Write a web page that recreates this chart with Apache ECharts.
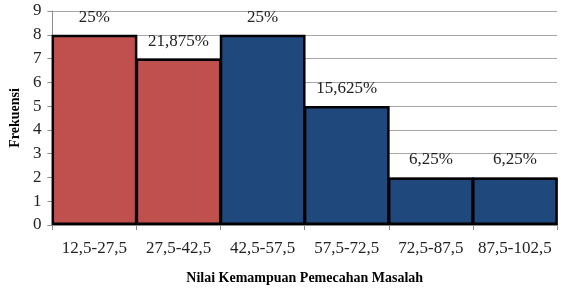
<!DOCTYPE html>
<html><head><meta charset="utf-8">
<script src="https://cdn.jsdelivr.net/npm/echarts@6/dist/echarts.min.js"></script>
<style>html,body{margin:0;padding:0;background:#fff}#c{width:561px;height:290px}</style>
</head><body><div id="c"></div>
<script>
var categories = ['12,5-27,5','27,5-42,5','42,5-57,5','57,5-72,5','72,5-87,5','87,5-102,5'];
var frequencies = [8, 7, 8, 5, 2, 2];
var percentLabels = ['25%','21,875%','25%','15,625%','6,25%','6,25%'];
var barColors = ['#C0504D','#C0504D','#1F497D','#1F497D','#1F497D','#1F497D'];
var yTicks = [0,1,2,3,4,5,6,7,8,9];

var font = 'Liberation Serif';
var chart = echarts.init(document.getElementById('c'), null, {renderer:'canvas'});
chart.setOption({
  animation:false,
  grid:{left:44,right:4,top:11,bottom:64},
  xAxis:{
    type:'category', data:categories,
    name:'Nilai Kemampuan Pemecahan Masalah', nameLocation:'middle', nameGap:46,
    nameTextStyle:{fontFamily:font,fontSize:14,fontWeight:'bold',color:'#000'},
    axisLine:{lineStyle:{color:'#8c8c8c'}},
    axisTick:{show:true,length:5,lineStyle:{color:'#8c8c8c'}},
    axisLabel:{interval:0,fontFamily:font,fontSize:17,color:'#222',margin:15}
  },
  yAxis:{
    type:'value', min:yTicks[0], max:yTicks[yTicks.length-1], interval:1,
    name:'Frekuensi', nameLocation:'middle', nameGap:30, nameRotate:90,
    nameTextStyle:{fontFamily:font,fontSize:14,fontWeight:'bold',color:'#000'},
    axisLine:{show:true,lineStyle:{color:'#8c8c8c'}},
    axisTick:{show:true,length:5,lineStyle:{color:'#8c8c8c'}},
    axisLabel:{fontFamily:font,fontSize:17,color:'#222',margin:11},
    splitLine:{lineStyle:{color:'#a6a6a6'}}
  },
  series:[{
    type:'bar', barWidth:'102%',
    data:frequencies.map(function(v,i){return {value:v,itemStyle:{color:barColors[i]},label:{formatter:percentLabels[i]}};}),
    itemStyle:{borderColor:'#000',borderWidth:2.5},
    label:{show:true,position:'top',distance:9,fontFamily:font,fontSize:17,color:'#222'}
  }]
});
</script></body></html>
